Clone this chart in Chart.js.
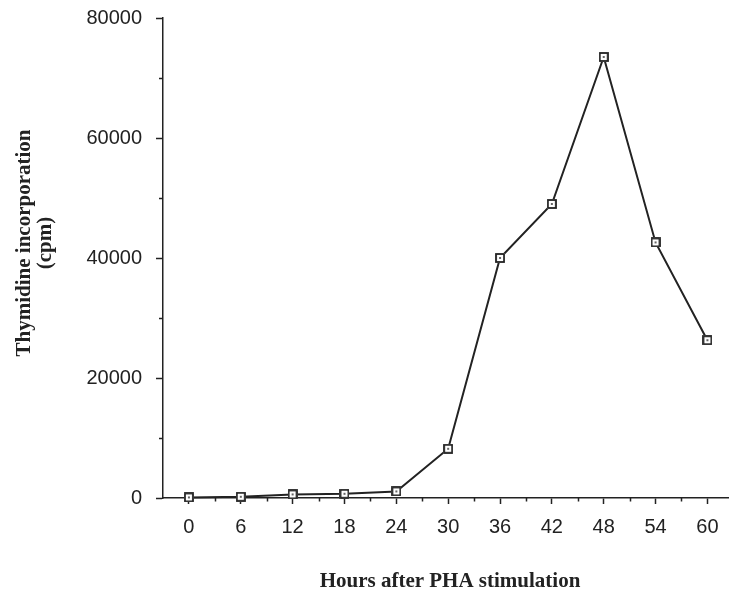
<!DOCTYPE html>
<html>
<head>
<meta charset="utf-8">
<script src="https://cdn.jsdelivr.net/npm/chart.js@4/dist/chart.umd.min.js"></script>
<style>
  html, body { margin: 0; padding: 0; background: #fff; overflow: hidden; }
  #wrap { width: 729px; height: 600px; position: relative; }
</style>
</head>
<body>
<div id="wrap"><canvas id="chart"></canvas></div>
<script>
// hours after PHA stimulation
const hours = [0, 6, 12, 18, 24, 30, 36, 42, 48, 54, 60];
// thymidine incorporation (cpm)
const cpm = [100, 200, 600, 700, 1100, 8200, 40000, 49000, 73500, 42600, 26300];

const xTicks = [0, 6, 12, 18, 24, 30, 36, 42, 48, 54, 60];
const xMinorTicks = [3, 9, 15, 21, 27, 33, 39, 45, 51, 57];
const yTicks = [0, 20000, 40000, 60000, 80000];
const yMinorTicks = [10000, 30000, 50000, 70000];

const INK = '#222';

// small square marker with a dot in the middle
const marker = document.createElement('canvas');
marker.width = marker.height = 10;
(() => {
  const m = marker.getContext('2d');
  m.fillStyle = '#fff';
  m.fillRect(0, 0, 10, 10);
  m.strokeStyle = INK;
  m.lineWidth = 1.8;
  m.strokeRect(1, 1, 8, 8);
  m.fillStyle = '#666';
  m.fillRect(4, 4, 2, 2);
})();

// minor tick marks + axis titles
const extras = {
  id: 'extras',
  afterDraw(chart) {
    const { ctx, scales: { x, y } } = chart;
    ctx.save();
    ctx.strokeStyle = INK;
    ctx.lineWidth = 1.5;
    ctx.beginPath();
    xMinorTicks.forEach(v => {
      const px = Math.round(x.getPixelForValue(v)) + 0.5;
      ctx.moveTo(px, x.top);
      ctx.lineTo(px, x.top + 3.5);
    });
    yMinorTicks.forEach(v => {
      const py = Math.round(y.getPixelForValue(v)) + 0.5;
      ctx.moveTo(y.right, py);
      ctx.lineTo(y.right - 4, py);
    });
    ctx.stroke();

    ctx.fillStyle = INK;
    ctx.font = 'bold 21px "Liberation Serif", "Times New Roman", serif';
    ctx.textAlign = 'center';
    ctx.textBaseline = 'middle';
    ctx.fillText('Hours after PHA stimulation', 450, 582);

    ctx.translate(25, 243);
    ctx.rotate(-Math.PI / 2);
    ctx.fillText('Thymidine incorporation', 0, 0);
    ctx.fillText('(cpm)', 0, 21);
    ctx.restore();
  }
};

const noPad = s => { s.paddingLeft = s.paddingRight = s.paddingTop = s.paddingBottom = 0; };
const tickFont = { family: '"Liberation Sans", Arial, sans-serif', size: 20 };

new Chart(document.getElementById('chart'), {
  type: 'line',
  data: {
    labels: hours,
    datasets: [{
      data: hours.map((h, i) => ({ x: h, y: cpm[i] })),
      borderColor: INK,
      borderWidth: 2,
      tension: 0,
      pointStyle: marker,
      pointRadius: 5,
      clip: false,
    }]
  },
  options: {
    responsive: true,
    maintainAspectRatio: false,
    animation: false,
    layout: { autoPadding: false, padding: { top: 18, right: 0, bottom: 0, left: 0 } },
    plugins: {
      legend: { display: false },
      tooltip: { enabled: false }
    },
    scales: {
      x: {
        type: 'linear',
        min: -3,
        max: 62.5,
        afterBuildTicks: s => { s.ticks = xTicks.map(v => ({ value: v })); },
        afterFit: s => { s.height = 102; noPad(s); },
        ticks: { color: INK, font: tickFont, padding: 11, autoSkip: false, maxRotation: 0 },
        grid: { drawOnChartArea: false, drawTicks: true, tickLength: 6, tickColor: INK, tickWidth: 1.5 },
        border: { color: INK, width: 1.5 }
      },
      y: {
        min: 0,
        max: 80000,
        afterBuildTicks: s => { s.ticks = yTicks.map(v => ({ value: v })); },
        afterFit: s => { s.width = 163; noPad(s); },
        ticks: { color: INK, font: tickFont, padding: 14, callback: v => String(v) },
        grid: { drawOnChartArea: false, drawTicks: true, tickLength: 7, tickColor: INK, tickWidth: 1.5 },
        border: { color: INK, width: 1.5 }
      }
    }
  },
  plugins: [extras]
});
</script>
</body>
</html>
